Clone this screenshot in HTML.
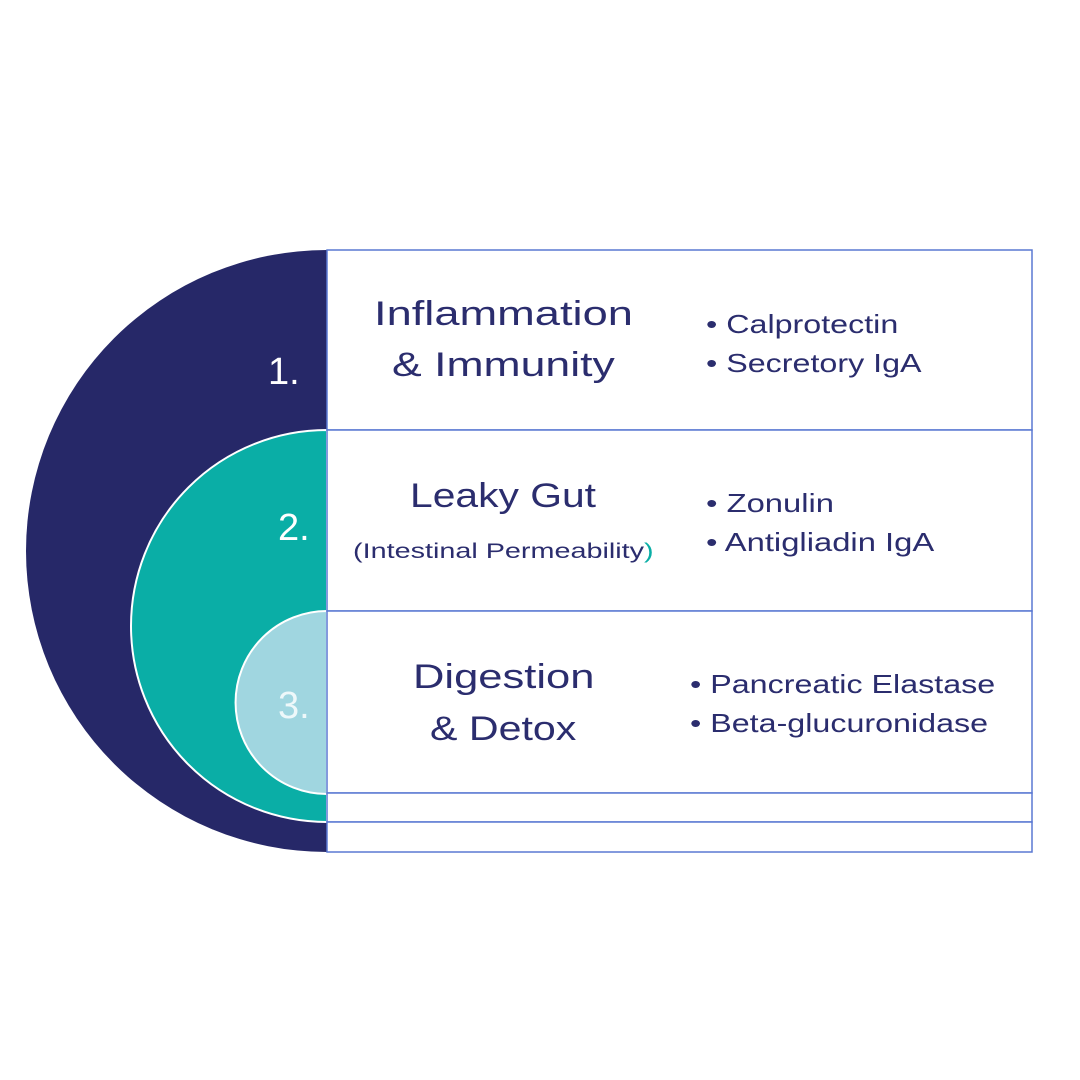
<!DOCTYPE html>
<html><head><style>
body{margin:0;width:1080px;height:1080px;background:#fff;position:relative;overflow:hidden;font-family:"Liberation Sans",sans-serif;color:#2b2d6e}
.t{position:absolute;white-space:nowrap;transform-origin:0 0}
</style></head><body>
<svg width="1080" height="1080" style="position:absolute;left:0;top:0">
<path d="M327 250 A301 301 0 0 0 327 852 Z" fill="#262868"/>
<path d="M327 430 A196 196 0 0 0 327 822 Z" fill="#0aaea6" stroke="#fff" stroke-width="2"/>
<path d="M327 611 A91.5 91.5 0 0 0 327 794 Z" fill="#a0d6e0" stroke="#fff" stroke-width="2"/>
<g fill="#fff" stroke="#5a78d2" stroke-width="1.5">
<rect x="327" y="250" width="705" height="180"/>
<rect x="327" y="430" width="705" height="181"/>
<rect x="327" y="611" width="705" height="182"/>
<rect x="327" y="793" width="705" height="29"/>
<rect x="327" y="822" width="705" height="30"/>
</g>
<g font-family="Liberation Sans,sans-serif" font-size="38" fill="#fff">
<text x="268" y="384">1.</text>
<text x="278" y="540">2.</text>
<text x="278" y="718" fill="#eef8fa">3.</text>
</g>
</svg>
<div class="t" style="left:374px;top:295px;font-size:34px;transform:scaleX(1.33)">Inflammation</div>
<div class="t" style="left:392px;top:346px;font-size:34px;transform:scaleX(1.31)">&amp; Immunity</div>
<div class="t" style="left:410px;top:477px;font-size:34px;transform:scaleX(1.2)">Leaky Gut</div>
<div class="t" style="left:353px;top:540px;font-size:21px;transform:scaleX(1.37)">(Intestinal Permeability<span style="color:#0aaea6">)</span></div>
<div class="t" style="left:413px;top:658px;font-size:34px;transform:scaleX(1.28)">Digestion</div>
<div class="t" style="left:430px;top:710px;font-size:34px;transform:scaleX(1.21)">&amp; Detox</div>
<div class="t" style="left:706px;top:305px;font-size:26px;line-height:39px;transform:scaleX(1.24)">• Calprotectin<br>• Secretory IgA</div>
<div class="t" style="left:706px;top:484px;font-size:26px;line-height:39px;transform:scaleX(1.26)">• Zonulin<br>• Antigliadin IgA</div>
<div class="t" style="left:690px;top:665px;font-size:26px;line-height:39px;transform:scaleX(1.24)">• Pancreatic Elastase<br>• Beta-glucuronidase</div>
</body></html>
